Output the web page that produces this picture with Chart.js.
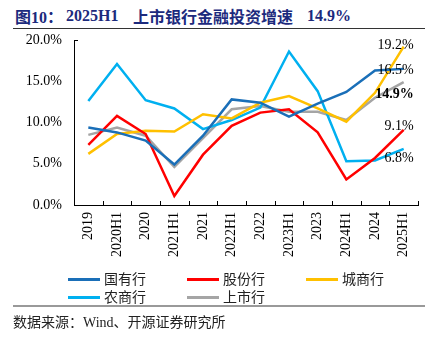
<!DOCTYPE html>
<html>
<head>
<meta charset="utf-8">
<script src="https://cdn.jsdelivr.net/npm/chart.js@4"></script>
<style>
  body { margin: 0; background: #fff; }
  #page { position: relative; width: 442px; height: 340px; overflow: hidden;
          font-family: "Liberation Serif", "Noto Sans CJK SC", serif; }
  .title { position: absolute; top: 6px; font-size: 16px; font-weight: bold; color: #1c2a7d;
           line-height: 20px; white-space: nowrap; }
  .rule { position: absolute; left: 13px; width: 412px; }
  #chart { position: absolute; left: 0; top: 0; }
  .lg { position: absolute; font-size: 14px; line-height: 18px; white-space: nowrap;
        font-family: "Noto Sans CJK SC", sans-serif; color: #222; }
  .lg i { display: inline-block; width: 32px; height: 3px; vertical-align: middle;
          margin-right: 4px; position: relative; top: -1px; }
  .src { position: absolute; left: 13px; top: 312px; font-size: 14px; line-height: 18px;
         font-family: "Noto Sans CJK SC", sans-serif; color: #222; white-space: nowrap; }
  .src span { font-family: "Liberation Serif", serif; }
</style>
</head>
<body>
<div id="page">
  <div class="title" style="left:15px;font-family:'Noto Sans CJK SC'">图<span style="font-family:'Liberation Serif'">10</span>：</div>
  <div class="title" style="left:66px">2025H1</div>
  <div class="title" style="left:133px;font-family:'Noto Sans CJK SC'">上市银行金融投资增速</div>
  <div class="title" style="left:307px">14.9%</div>
  <div class="rule" style="top:28px;height:1px;background:#333"></div>

  <canvas id="chart" width="442" height="270"></canvas>

  <div id="legend"></div>
  <div class="rule" style="top:305px;height:2px;background:#999"></div>
  <div class="src">数据来源：<span>Wind</span>、开源证券研究所</div>
</div>

<script>
// categories
const periods = ['2019', '2020H1', '2020', '2021H1', '2021', '2022H1', '2022',
                 '2023H1', '2023', '2024H1', '2024', '2025H1'];

// growth rates, %
const stateOwned   = [9.4, 8.8, 7.8, 4.9, 8.4, 12.8, 12.4, 10.7, 12.3, 13.7, 16.3, 16.5];
const jointStock   = [7.3, 10.8, 8.6, 1.1, 6.1, 9.6, 11.2, 11.6, 8.8, 3.1, 5.7, 9.1];
const cityBanks    = [6.2, 8.6, 9.0, 8.9, 11.0, 10.5, 12.4, 13.2, 11.7, 10.1, 13.6, 19.2];
const ruralBanks   = [12.6, 17.1, 12.7, 11.7, 9.2, 10.3, 11.8, 18.6, 13.8, 5.3, 5.4, 6.8];
const listedBanks  = [8.5, 9.4, 8.4, 4.6, 8.1, 11.6, 12.0, 11.3, 11.3, 10.3, 13.0, 14.9];

// y axis ticks
const yTicks = [0, 5, 10, 15, 20];

const seriesNames  = ['国有行', '股份行', '城商行', '农商行', '上市行'];
const seriesData   = [stateOwned, jointStock, cityBanks, ruralBanks, listedBanks];
const seriesColors = ['#1a6fb8', '#ff0000', '#ffc000', '#00b0f0', '#a5a5a5'];

/* ── end labels: [series index, dy in px, bold] ── */
const endLabels = [[2, -1.5, false], [0, 1.5, false], [4, 12, true], [1, -3.5, false], [3, 9, false]];

const endLabelPlugin = {
    id: 'endLabels',
    afterDatasetsDraw(chart) {
        const ctx = chart.ctx;
        ctx.save();
        ctx.textAlign = 'right';
        ctx.textBaseline = 'middle';
        ctx.fillStyle = '#000';
        endLabels.forEach(([i, dy, bold]) => {
            const pts = chart.getDatasetMeta(i).data;
            const p = pts[pts.length - 1];
            const v = seriesData[i][seriesData[i].length - 1];
            ctx.font = (bold ? 'bold ' : '') + '14px "Liberation Serif"';
            ctx.fillText(v.toFixed(1) + '%', p.x + 10, p.y + dy);
        });
        ctx.restore();
    }
};

/* ── small tick marks pointing into the plot ── */
const innerTicksPlugin = {
    id: 'innerTicks',
    afterDraw(chart) {
        const x = chart.scales.x, y = chart.scales.y;
        const ctx = chart.ctx;
        const n = periods.length;
        ctx.save();
        ctx.strokeStyle = '#000';
        ctx.lineWidth = 1;
        ctx.beginPath();
        for (let i = 1; i <= n; i++) {
            const px = Math.round(x.left + i * x.width / n) + 0.5;
            ctx.moveTo(px, x.top);
            ctx.lineTo(px, x.top - 4);
        }
        ctx.moveTo(y.right, y.top + 0.5);
        ctx.lineTo(y.right + 4, y.top + 0.5);
        ctx.stroke();
        ctx.restore();
    }
};

const ctx = document.getElementById('chart').getContext('2d');
const chart = new Chart(ctx, {
    type: 'line',
    data: {
        labels: periods,
        datasets: seriesData.map((d, i) => ({
            label: seriesNames[i],
            data: d,
            borderColor: seriesColors[i],
            backgroundColor: seriesColors[i],
            borderWidth: 2.5,
            pointRadius: 0,
            tension: 0
        }))
    },
    options: {
        responsive: false,
        animation: false,
        devicePixelRatio: 1,
        layout: { padding: { top: 40, right: 24, left: 0, bottom: 0 } },
        scales: {
            x: {
                offset: true,
                grid: { display: true, offset: true, drawOnChartArea: false, drawTicks: false },
                border: { display: true, color: '#000', width: 1 },
                ticks: {
                    autoSkip: false, maxRotation: 90, minRotation: 90, padding: 7,
                    color: '#000', font: { family: 'Liberation Serif', size: 14 }
                },
                afterFit(s) { s.height = 65; }
            },
            y: {
                min: 0, max: 20,
                grid: { display: true, drawOnChartArea: false, drawTicks: false },
                border: { display: true, color: '#000', width: 1 },
                afterBuildTicks(s) { s.ticks = yTicks.map(v => ({ value: v })); },
                ticks: {
                    padding: 12, color: '#000',
                    font: { family: 'Liberation Serif', size: 14 },
                    callback: v => v.toFixed(1) + '%'
                },
                afterFit(s) { s.width = 74; }
            }
        },
        plugins: { legend: { display: false }, tooltip: { enabled: false } }
    },
    plugins: [endLabelPlugin, innerTicksPlugin]
});

/* ── legend (3 columns) ── */
const legend = document.getElementById('legend');
seriesNames.forEach((name, i) => {
    const el = document.createElement('div');
    el.className = 'lg';
    el.style.left = (68 + (i % 3) * 119) + 'px';
    el.style.top = (269 + Math.floor(i / 3) * 18) + 'px';
    el.innerHTML = '<i style="background:' + seriesColors[i] + '"></i>' + name;
    legend.appendChild(el);
});
</script>
</body>
</html>
